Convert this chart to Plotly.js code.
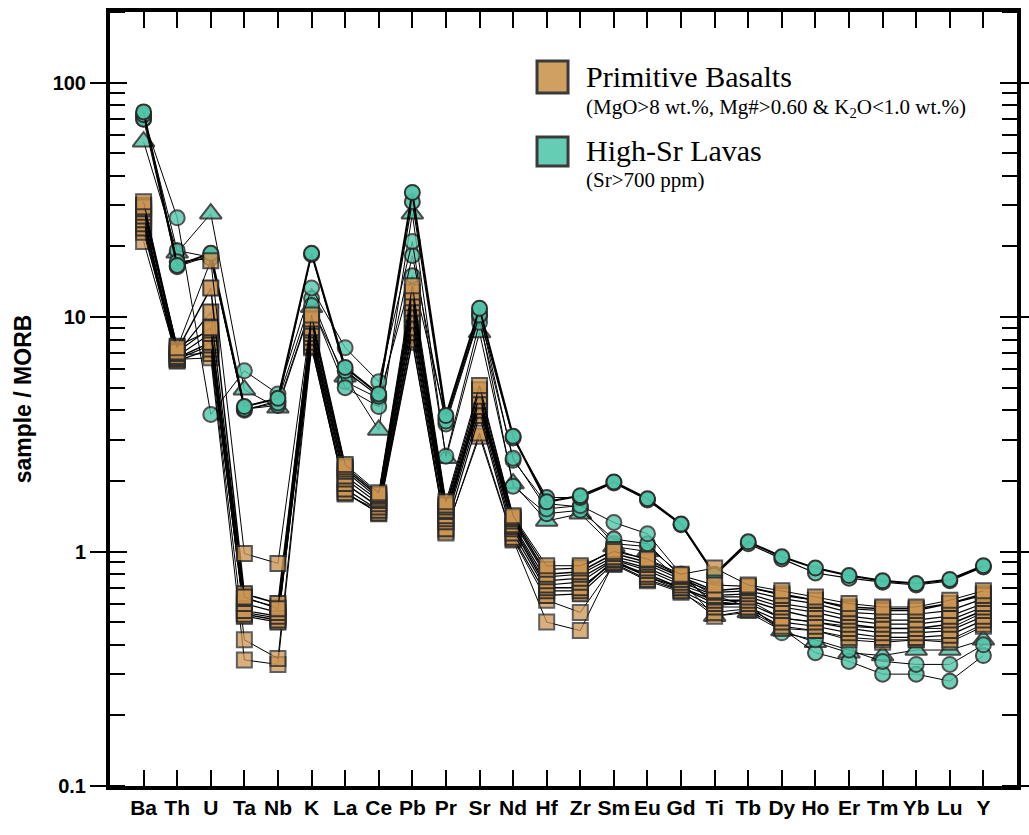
<!DOCTYPE html>
<html>
<head>
<meta charset="utf-8">
<script src="https://cdn.plot.ly/plotly-3.0.1.min.js"></script>
<style>
  html, body { margin: 0; padding: 0; background: #ffffff; }
  #chart { width: 1029px; height: 835px; }
</style>
</head>
<body>
<div id="chart"></div>
<script>
// Trace elements, ordered for the MORB-normalised spider diagram
const elements = ["Ba","Th","U","Ta","Nb","K","La","Ce","Pb","Pr","Sr","Nd","Hf","Zr","Sm","Eu","Gd","Ti","Tb","Dy","Ho","Er","Tm","Yb","Lu","Y"];

// Primitive basalts (sample / MORB)
const basalt1  = [31, 7.4, 17.4, 0.98, 0.89, 10.2, 2.35, 1.78, 13.6, 1.63, 5.1, 1.42, 0.87, 0.87, 1.00, 0.93, 0.80, 0.85, 0.72, 0.68, 0.64, 0.60, 0.58, 0.58, 0.62, 0.68];
const basalt2  = [30, 7.2, 13.3, 0.66, 0.60, 9.6, 2.25, 1.72, 12.1, 1.55, 4.6, 1.38, 0.80, 0.82, 0.98, 0.90, 0.78, 0.68, 0.70, 0.66, 0.62, 0.58, 0.57, 0.57, 0.60, 0.66];
const basalt3  = [29, 7.0, 10.5, 0.63, 0.58, 9.0, 2.20, 1.68, 11.5, 1.50, 4.4, 1.35, 0.78, 0.80, 0.95, 0.88, 0.76, 0.67, 0.68, 0.63, 0.60, 0.55, 0.54, 0.54, 0.56, 0.63];
const basalt4  = [28, 7.5, 8.8, 0.60, 0.55, 8.8, 2.10, 1.65, 10.9, 1.48, 4.15, 1.30, 0.75, 0.77, 0.93, 0.85, 0.74, 0.65, 0.66, 0.60, 0.57, 0.53, 0.51, 0.51, 0.53, 0.60];
const basalt5  = [27, 6.8, 8.5, 0.56, 0.53, 8.5, 2.04, 1.60, 10.3, 1.42, 4.5, 1.28, 0.72, 0.74, 0.92, 0.83, 0.72, 0.64, 0.64, 0.58, 0.55, 0.51, 0.49, 0.49, 0.51, 0.58];
const basalt6  = [26, 6.7, 7.8, 0.54, 0.51, 8.2, 1.95, 1.55, 9.7, 1.38, 4.3, 1.25, 0.70, 0.70, 0.90, 0.80, 0.70, 0.62, 0.62, 0.56, 0.52, 0.49, 0.47, 0.47, 0.49, 0.56];
const basalt7  = [25, 6.6, 7.6, 0.53, 0.50, 7.8, 1.85, 1.50, 9.0, 1.34, 4.0, 1.20, 0.68, 0.68, 0.92, 0.78, 0.70, 0.60, 0.60, 0.52, 0.50, 0.47, 0.45, 0.45, 0.46, 0.53];
const basalt8  = [24, 6.5, 7.3, 0.55, 0.52, 7.5, 1.78, 1.46, 8.6, 1.25, 3.8, 1.15, 0.65, 0.66, 0.89, 0.76, 0.68, 0.58, 0.58, 0.50, 0.48, 0.45, 0.43, 0.43, 0.44, 0.51];
const basalt9  = [23, 6.9, 7.0, 0.42, 0.35, 8.0, 1.76, 1.50, 8.0, 1.20, 3.2, 1.13, 0.62, 0.55, 0.88, 0.75, 0.67, 0.55, 0.57, 0.48, 0.46, 0.43, 0.42, 0.42, 0.42, 0.49];
const basalt10 = [21, 6.6, 6.7, 0.345, 0.33, 7.4, 1.80, 1.45, 7.8, 1.22, 3.1, 1.12, 0.50, 0.46, 0.90, 0.78, 0.68, 0.53, 0.56, 0.47, 0.46, 0.42, 0.41, 0.42, 0.41, 0.48];
const basalt11 = [29.5, 7.1, 9.0, 0.64, 0.57, 9.8, 2.30, 1.75, 12.8, 1.58, 4.9, 1.40, 0.84, 0.85, 1.02, 0.92, 0.79, 0.72, 0.71, 0.65, 0.62, 0.57, 0.56, 0.56, 0.60, 0.65];

// High-Sr lavas (sample / MORB)
const highSr1 = [75, 16.6, 18.7, 4.15, 4.5, 18.7, 6.1, 4.7, 34, 3.8, 10.9, 3.1, 1.63, 1.73, 1.98, 1.68, 1.31, 0.80, 1.10, 0.95, 0.85, 0.79, 0.75, 0.73, 0.76, 0.87];
const highSr2 = [73, 17.2, 17.8, 4.05, 4.3, 18.5, 5.9, 4.6, 31, 3.6, 10.2, 3.05, 1.70, 1.70, 1.96, 1.66, 1.30, 0.79, 1.08, 0.93, 0.81, 0.77, 0.74, 0.72, 0.75, 0.86];
const highSr3 = [70, 26.5, 3.84, 5.9, 4.7, 13.3, 7.4, 5.3, 21, 2.55, 9.5, 2.5, 1.52, 1.57, 1.33, 1.19, 0.80, 0.59, 0.60, 0.45, 0.42, 0.38, 0.34, 0.33, 0.33, 0.40];
const highSr4 = [69.7, 16.4, 18.3, 4.05, 4.2, 11.2, 5.0, 4.15, 18.3, 3.5, 10.0, 1.90, 1.45, 1.50, 1.13, 1.08, 0.78, 0.65, 0.58, 0.47, 0.37, 0.34, 0.30, 0.30, 0.28, 0.36];
const highSr5 = [72, 19.2, 18.0, 4.0, 4.4, 12.0, 5.3, 4.5, 15, 3.7, 10.5, 2.45, 1.60, 1.55, 1.08, 1.05, 0.80, 0.60, 0.62, 0.52, 0.50, 0.48, 0.47, 0.47, 0.47, 0.55];
const highSrTri = [56, 18.8, 27.6, 4.9, 4.1, 11, 5.57, 3.3, 27.6, 2.5, 8.6, 1.95, 1.35, 1.45, 1.05, 1.00, 0.75, 0.53, 0.55, 0.46, 0.41, 0.37, 0.36, 0.38, 0.38, 0.42];

const basaltFill = '#cc9552';
const lavaFill = '#52c6a9';
const edge = '#2a2a2a';

function lavaTrace(values, symbol, lw, op) {
  return {
    type: 'scatter', mode: 'lines+markers', x: elements, y: values, yaxis: 'y',
    line: { color: '#000000', width: lw },
    marker: { symbol: symbol, size: symbol === 'circle' ? 15 : 19, color: lavaFill, opacity: op,
              line: { color: edge, width: 2 } },
    showlegend: false, hoverinfo: 'skip'
  };
}
function basaltTrace(values, lw, op) {
  return {
    type: 'scatter', mode: 'lines+markers', x: elements, y: values, yaxis: 'y2',
    line: { color: '#000000', width: lw },
    marker: { symbol: 'square', size: 15, color: basaltFill, opacity: op,
              line: { color: edge, width: 2 } },
    showlegend: false, hoverinfo: 'skip'
  };
}

const data = [
  lavaTrace(highSrTri, 'triangle-up', 1, 0.85),
  lavaTrace(highSr5, 'circle', 1, 0.85),
  lavaTrace(highSr4, 'circle', 1, 0.85),
  lavaTrace(highSr3, 'circle', 1, 0.8),
  lavaTrace(highSr2, 'circle', 1.2, 0.9),
  lavaTrace(highSr1, 'circle', 2, 0.95),
  basaltTrace(basalt10, 1, 0.75),
  basaltTrace(basalt9, 1, 0.75),
  basaltTrace(basalt8, 1.2, 0.9),
  basaltTrace(basalt7, 1.2, 0.9),
  basaltTrace(basalt6, 1.5, 0.9),
  basaltTrace(basalt5, 1.2, 0.9),
  basaltTrace(basalt4, 1.2, 0.9),
  basaltTrace(basalt3, 1.2, 0.9),
  basaltTrace(basalt2, 1.5, 0.9),
  basaltTrace(basalt11, 1.2, 0.9),
  basaltTrace(basalt1, 1, 0.8)
];

const yRange = [-1, Math.log10(200)];
const sansBold = (size) => ({ family: 'Liberation Sans, Arial, sans-serif', size: size, color: '#000000', weight: 'bold' });
const serif = (size) => ({ family: 'Liberation Serif, Times New Roman, serif', size: size, color: '#000000' });

const layout = {
  width: 1029, height: 835,
  margin: { l: 110, r: 12, t: 12, b: 49 },
  paper_bgcolor: '#ffffff', plot_bgcolor: '#ffffff',
  showlegend: false,
  xaxis: {
    type: 'category', categoryorder: 'array', categoryarray: elements,
    range: [-1, 26],
    showline: true, linecolor: '#000000', linewidth: 4, mirror: 'ticks',
    ticks: 'inside', ticklen: 16, tickwidth: 2, tickcolor: '#000000',
    showgrid: false, zeroline: false,
    tickfont: sansBold(21)
  },
  yaxis: {
    type: 'log', range: yRange,
    tickmode: 'array', tickvals: [0.1, 1, 10, 100], ticktext: ['0.1', '1', '10', '100'],
    showline: true, linecolor: '#000000', linewidth: 4, mirror: 'ticks',
    ticks: 'outside', ticklen: 16, tickwidth: 2, tickcolor: '#000000',
    minor: { ticks: 'inside', ticklen: 15, tickwidth: 2, tickcolor: '#000000', dtick: 'D1', showgrid: false },
    showgrid: false, zeroline: false,
    tickfont: sansBold(20),
    title: { text: 'sample / MORB', standoff: 16, font: sansBold(23) }
  },
  yaxis2: {
    type: 'log', range: yRange, overlaying: 'y', side: 'left',
    tickmode: 'array', tickvals: [0.1, 1, 10, 100],
    showticklabels: false, showline: false, mirror: 'ticks',
    ticks: 'inside', ticklen: 17, tickwidth: 2, tickcolor: '#000000',
    showgrid: false, zeroline: false
  },
  shapes: [
    { type: 'rect', xref: 'paper', yref: 'paper', x0: 0.4708, x1: 0.5050, y0: 0.8953, y1: 0.9367,
      fillcolor: '#cfa062', line: { color: '#3a3a3a', width: 3 } },
    { type: 'rect', xref: 'paper', yref: 'paper', x0: 0.4708, x1: 0.5050, y0: 0.8010, y1: 0.8385,
      fillcolor: '#66cdb5', line: { color: '#3a3a3a', width: 3 } }
  ],
  annotations: [
    { xref: 'paper', yref: 'paper', x: 0.5226, y: 0.9173, xanchor: 'left', yanchor: 'middle', showarrow: false,
      text: 'Primitive Basalts', font: serif(30) },
    { xref: 'paper', yref: 'paper', x: 0.5226, y: 0.8760, xanchor: 'left', yanchor: 'middle', showarrow: false,
      text: '(MgO>8 wt.%, Mg#>0.60 & K<sub>2</sub>O<1.0 wt.%)', font: serif(21) },
    { xref: 'paper', yref: 'paper', x: 0.5226, y: 0.8217, xanchor: 'left', yanchor: 'middle', showarrow: false,
      text: 'High-Sr Lavas', font: serif(30) },
    { xref: 'paper', yref: 'paper', x: 0.5226, y: 0.7830, xanchor: 'left', yanchor: 'middle', showarrow: false,
      text: '(Sr>700 ppm)', font: serif(21) }
  ]
};

Plotly.newPlot('chart', data, layout, { displayModeBar: false, staticPlot: true });
</script>
</body>
</html>
